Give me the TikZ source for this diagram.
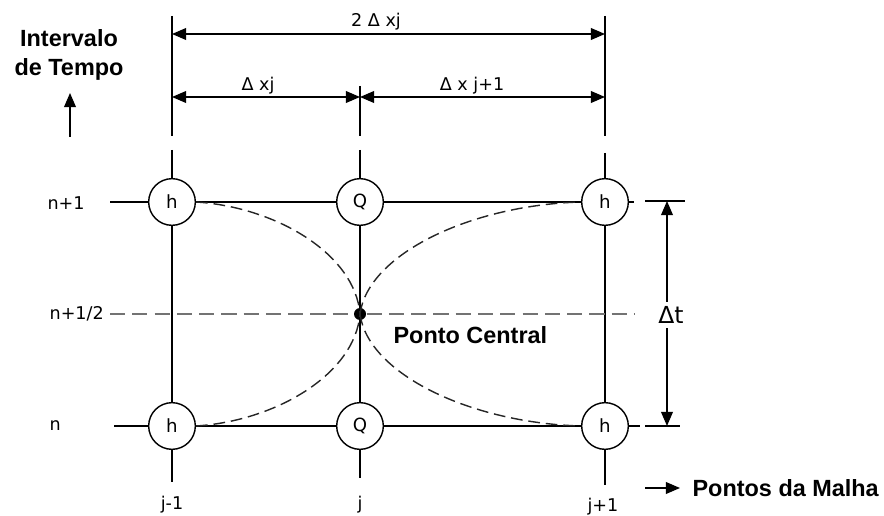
\documentclass[tikz,border=0pt]{standalone}
\usepackage{fontspec}
\setmainfont{DejaVu Sans}
\newfontfamily\labelfont{Liberation Sans}
\usetikzlibrary{arrows.meta}

\begin{document}
\begin{tikzpicture}[x=0.03cm, y=-0.03cm, >={Triangle[length=12pt, width=10pt]}, line width=1.2pt,
  meshpt/.style={circle, draw, fill=white, minimum size=1.4cm, inner sep=0pt, font=\fontsize{15.5}{18}\selectfont},
  plain/.style={font=\fontsize{15}{18}\selectfont},
  tag/.style={font=\labelfont\bfseries\fontsize{20}{24}\selectfont},
  midline/.style={black!55, dash pattern=on 13pt off 6pt},
  curve/.style={black!85, dash pattern=on 10pt off 5pt}]

\useasboundingbox (0,0) rectangle (884,516);

% Mesh points
\node[meshpt] (h1) at (172,202) {h};
\node[meshpt] (q1) at (360,202) {Q};
\node[meshpt] (h2) at (605,202) {h};
\node[meshpt] (h3) at (172,426) {h};
\node[meshpt] (q2) at (360,426) {Q};
\node[meshpt] (h4) at (605,426) {h};
\node[circle, fill, minimum size=0.36cm, inner sep=0pt] (c) at (360,314) {};

% Grid line ends
\coordinate (l1) at (110,202);
\coordinate (r1) at (634,202);
\coordinate (l2) at (114,426);
\coordinate (r2) at (640,426);
\coordinate (t1) at (172,150);
\coordinate (b1) at (172,482);
\coordinate (t2) at (360,150);
\coordinate (b2) at (360,478);
\coordinate (t3) at (605,153);
\coordinate (b3) at (605,485);

% Grid lines
\draw (l1) -- (h1) -- (q1) -- (h2) -- (r1);
\draw (l2) -- (h3) -- (q2) -- (h4) -- (r2);
\draw (t1) -- (h1) -- (h3) -- (b1);
\draw (t2) -- (q1) -- (q2) -- (b2);
\draw (t3) -- (h2) -- (h4) -- (b3);

% Half time level
\coordinate (ml) at (110,314);
\coordinate (mr) at (635,314);
\draw[midline] (ml) -- (c) -- (mr);

% Curves through the central point
\draw[curve] (h1.east) .. controls +(80,5) and +(-5,-60) .. (c.center);
\draw[curve] (h3.east) .. controls +(80,-5) and +(-5,60) .. (c.center);
\draw[curve] (c.center) .. controls +(8,-60) and +(-110,3) .. (h2.west);
\draw[curve] (c.center) .. controls +(8,60) and +(-110,-3) .. (h4.west);
\node[tag, anchor=west] (central) at (389,335) {Ponto Central};

% Space steps
\coordinate (e1t) at (172,16);
\coordinate (e1b) at (172,136);
\coordinate (e2t) at (360,86);
\coordinate (e2b) at (360,136);
\coordinate (e3t) at (605,16);
\coordinate (e3b) at (605,136);
\draw (e1t) -- (e1b);
\draw (e2t) -- (e2b);
\draw (e3t) -- (e3b);

\coordinate (d1) at (172,34);
\coordinate (d2) at (605,34);
\draw[<->] (d1) -- (d2);
\node[plain] (dx2) at (376,22) {2 Δ xj};

\coordinate (d3) at (172,97);
\coordinate (d4) at (360,97);
\coordinate (d5) at (605,97);
\draw[<->] (d3) -- (d4);
\draw[<->] (d4) -- (d5);
\node[plain] (dxa) at (258,86) {Δ xj};
\node[plain] (dxb) at (472,86) {Δ x j+1};

% Time step
\coordinate (g1) at (645,201);
\coordinate (g2) at (685,201);
\coordinate (g3) at (645,426);
\coordinate (g4) at (680,426);
\draw (g1) -- (g2);
\draw (g3) -- (g4);
\coordinate (dtTop) at (667,201);
\coordinate (dtBot) at (667,426);
\node[font=\fontsize{20}{24}\selectfont] (dt) at (671,315) {Δt};
\draw[->] (dt.north -| dtTop) -- (dtTop);
\draw[->] (dt.south -| dtBot) -- (dtBot);

% Time levels
\node[plain, anchor=west] (n1) at (43,203) {n+1};
\node[plain, anchor=west] (nh) at (45,314) {n+1/2};
\node[plain, anchor=west] (n0) at (45,426) {n};

% Mesh indices
\node[plain] (jm) at (172,505) {j-1};
\node[plain] (j0) at (360,505) {j};
\node[plain] (jp) at (603,507) {j+1};

% Axis captions
\node[tag, align=center] (tempo) at (69,55) {Intervalo\\de Tempo};
\coordinate (up0) at (70,137);
\coordinate (up1) at (70,93);
\draw[->] (up0) -- (up1);

\node[tag, anchor=west] (malha) at (688,488) {Pontos da Malha};
\coordinate (pm0) at (645,488);
\coordinate (pm1) at (680,488);
\draw[->] (pm0) -- (pm1);

\end{tikzpicture}
\end{document}
